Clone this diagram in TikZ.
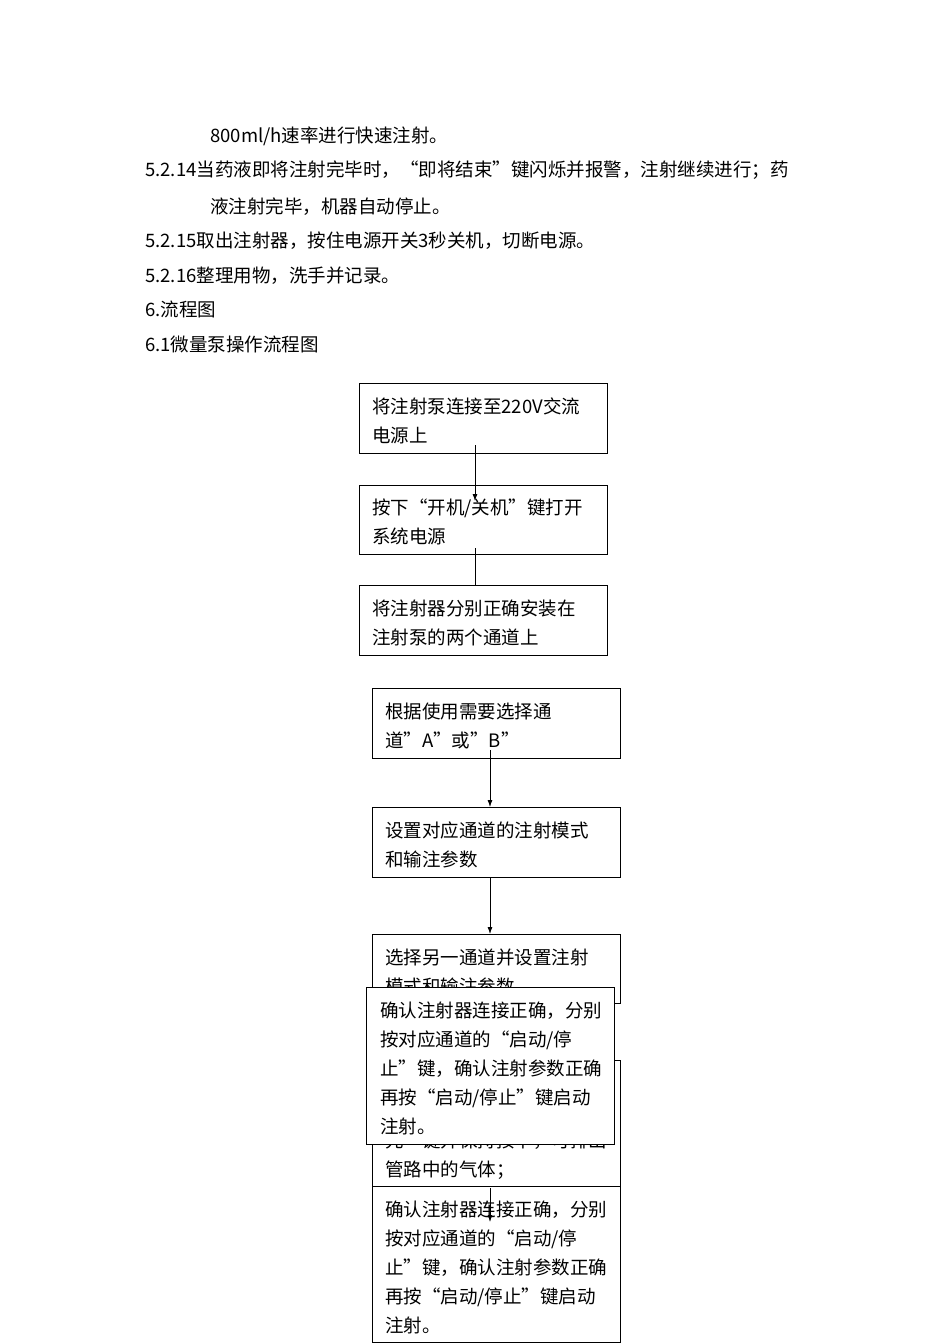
\documentclass[tikz,border=0pt]{standalone}
\usepackage{fontspec}
\setmainfont{Noto Sans CJK SC}
\begin{document}
\begin{tikzpicture}[x=1pt,y=1pt,
  box/.style={draw,line width=0.8pt,fill=white,anchor=north west,minimum width=248pt,inner sep=0pt},
  txt/.style={anchor=north west,inner sep=0pt,align=left,font=\fontsize{18.5}{29}\selectfont},
  arr/.style={line width=0.8pt,-{Latex[length=7pt,width=5pt]}}]
\usetikzlibrary{arrows.meta}
\useasboundingbox (0,0) rectangle (950,-1344);
\fill[white] (0,0) rectangle (950,-1344);
% top text
\node[txt] (t1) at (210,-127) {800ml/h速率进行快速注射。};
\node[txt] (t2) at (145,-161) {5.2.14当药液即将注射完毕时，“即将结束”键闪烁并报警，注射继续进行；药};
\node[txt] (t3) at (210,-198) {液注射完毕，机器自动停止。};
\node[txt] (t4) at (145,-232) {5.2.15取出注射器，按住电源开关3秒关机，切断电源。};
\node[txt] (t5) at (145,-267) {5.2.16整理用物，洗手并记录。};
\node[txt] (t6) at (145,-301) {6.流程图};
\node[txt] (t7) at (145,-336) {6.1微量泵操作流程图};
% boxes
\node[box,minimum height=70pt] (b1) at (359,-383) {};
\node[txt] at (372,-398) {将注射泵连接至220V交流\\电源上};
\node[box,minimum height=69pt] (b2) at (359,-485) {};
\node[txt] at (372,-499) {按下“开机/关机”键打开\\系统电源};
\node[box,minimum height=70pt] (b3) at (359,-585) {};
\node[txt] at (372,-600) {将注射器分别正确安装在\\注射泵的两个通道上};
\node[box,minimum height=70pt] (b4) at (372,-688) {};
\node[txt] at (385,-703) {根据使用需要选择通\\道”A”或”B”};
\node[box,minimum height=70pt] (b5) at (372,-807) {};
\node[txt] at (385,-822) {设置对应通道的注射模式\\和输注参数};
\node[box,minimum height=69pt] (b6) at (372,-934) {};
\node[txt] at (385,-949) {选择另一通道并设置注射\\模式和输注参数};
\node[box,minimum height=126pt] (b7) at (372,-1060) {};
\node[txt] at (385,-1132) {先”键并保持按下，可排出\\管路中的气体；};
\node[box,minimum height=157pt,minimum width=248pt] (b8) at (366,-987) {};
\node[txt] at (380,-1002) {确认注射器连接正确，分别\\按对应通道的“启动/停\\止”键，确认注射参数正确\\再按“启动/停止”键启动\\注射。};
\node[box,minimum height=156pt] (b9) at (372,-1186) {};
\node[txt] at (385,-1201) {确认注射器连接正确，分别\\按对应通道的“启动/停\\止”键，确认注射参数正确\\再按“启动/停止”键启动\\注射。};
% connectors
\coordinate (a1) at (475,-445);
\coordinate (a1e) at (475,-501);
\draw[arr] (a1) -- (a1e);
\coordinate (a2) at (475,-548);
\draw[line width=0.8pt] (a2) -- (b3.north -| a2);
\coordinate (a3) at (490,-750);
\draw[arr] (a3) -- (b5.north -| a3);
\draw[arr] (b5.south -| a3) -- (b6.north -| a3);
\coordinate (a5) at (490,-1188);
\coordinate (a5e) at (490,-1222);
\draw[arr] (a5) -- (a5e);
\end{tikzpicture}
\end{document}
